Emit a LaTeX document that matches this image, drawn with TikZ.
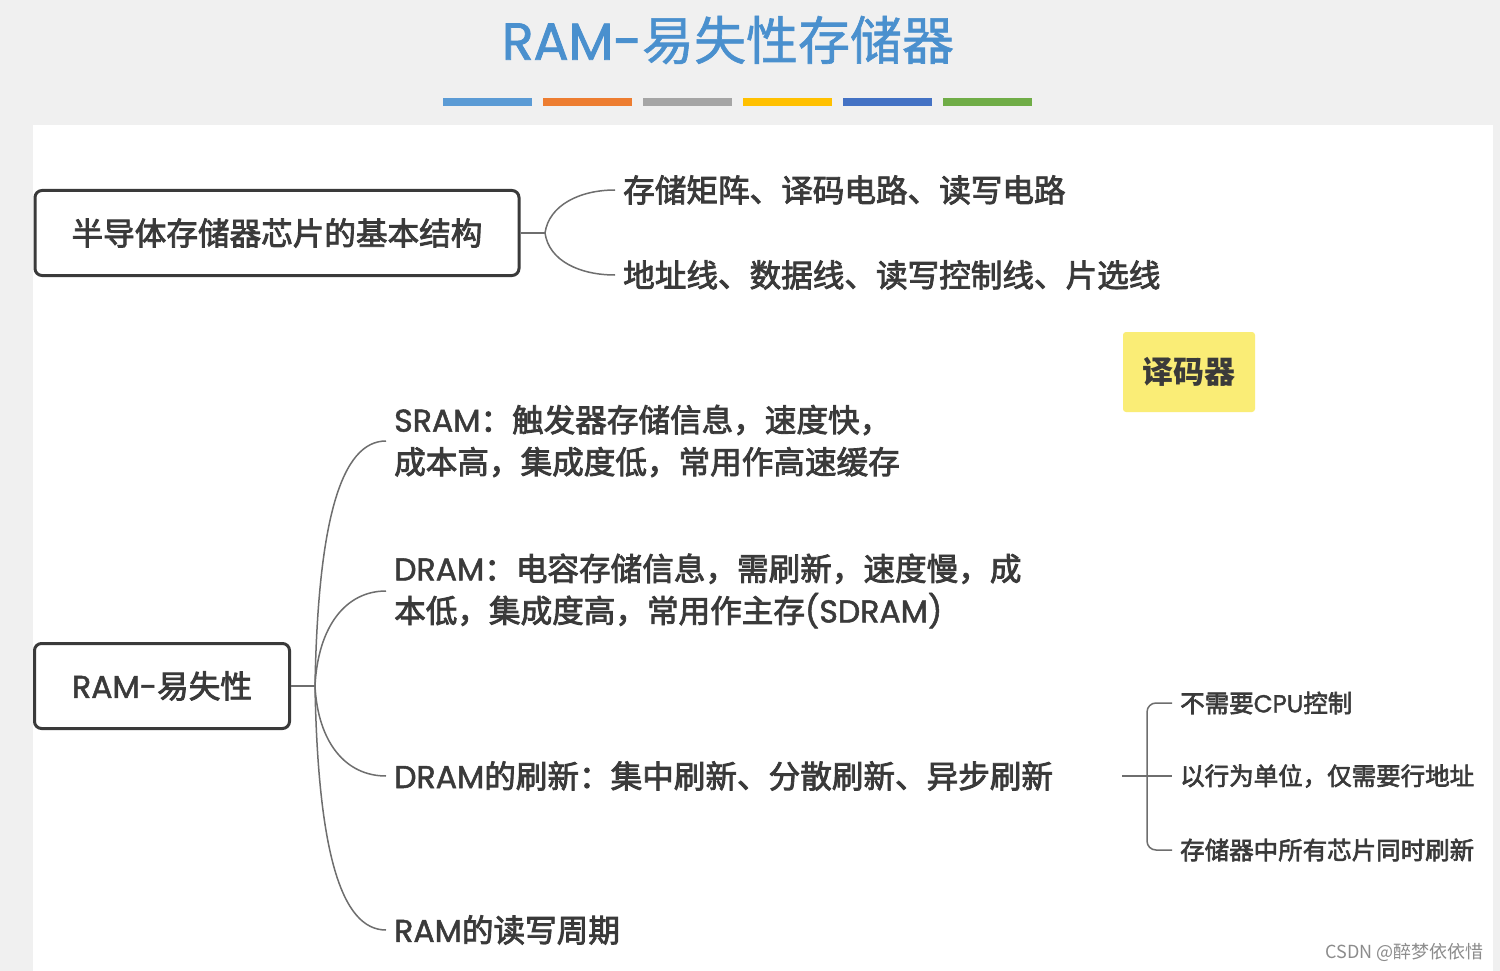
\documentclass[tikz,border=0pt]{standalone}
\usepackage{fontspec}
\setmainfont{Noto Sans CJK SC}
\newfontfamily\heavy{Noto Sans CJK SC}[FakeBold=2.6]
\newfontfamily\lat{Poppins}[FakeBold=1.6]
\newfontfamily\titlefont{Noto Sans CJK SC}[FakeBold=1.2]
\usepackage{tikz}
\usetikzlibrary{calc}

\definecolor{inkgray}{RGB}{58,58,58}
\definecolor{linegray}{RGB}{110,110,110}
\definecolor{titleblue}{RGB}{74,144,206}
\definecolor{memo}{RGB}{250,237,118}
\definecolor{paper}{RGB}{240,240,240}
\definecolor{barA}{RGB}{91,155,213}
\definecolor{barB}{RGB}{237,125,49}
\definecolor{barC}{RGB}{165,165,165}
\definecolor{barD}{RGB}{255,192,0}
\definecolor{barE}{RGB}{68,114,196}
\definecolor{barF}{RGB}{112,173,71}

\begin{document}
\begin{tikzpicture}[
  x=1pt, y=-1pt,
  topic/.style={draw=inkgray,line width=3pt,rounded corners=7pt,text=inkgray,minimum height=85pt,font=\heavy\fontsize{31.6}{38}\selectfont},
  leaf/.style={anchor=west,inner xsep=8pt,inner ysep=2pt,text=inkgray,align=left,font=\heavy\fontsize{31.6}{42}\selectfont},
  small/.style={anchor=west,inner xsep=8pt,text=inkgray,font=\heavy\fontsize{24.5}{30}\selectfont},
  twig/.style={draw=linegray,line width=1.5pt}
]
  \useasboundingbox (0,0) rectangle (1500,971);
  \fill[paper] (0,0) rectangle (1500,971);
  \fill[white] (33,125) rectangle (1493,971);

  \node[text=titleblue,font=\titlefont\fontsize{52}{60}\selectfont] (title) at (728,40) {{\lat RAM-}易失性存储器};
  \foreach \c [count=\i from 0] in {barA,barB,barC,barD,barE,barF}
    \fill[\c] (443+100*\i,98) rectangle ++(89,8);

  \node[topic,minimum width=484pt] (chipBox) at (277,233) {半导体存储器芯片的基本结构};
  \coordinate (fork1) at (545,233);
  \node[leaf] (parts) at (615,190) {存储矩阵、译码电路、读写电路};
  \node[leaf] (lines) at (615,275) {地址线、数据线、读写控制线、片选线};

  \draw[twig] (chipBox.east) -- (fork1);
  \draw[twig] (fork1) .. controls +(4,-28) and +(-35,0) .. (parts.west);
  \draw[twig] (fork1) .. controls +(4,28) and +(-35,0) .. (lines.west);

  \node[fill=memo,rounded corners=3pt,minimum width=132pt,minimum height=80pt,text=inkgray,font=\bfseries\fontsize{31}{38}\selectfont] (decoder) at (1189,372) {译码器};

  \node[topic,minimum width=255pt] (ramBox) at (162,686) {{\lat RAM-}易失性};
  \coordinate (fork2) at (315,686);
  \node[leaf] (sram) at (386,441) {{\lat SRAM}：触发器存储信息，速度快，\\成本高，集成度低，常用作高速缓存};
  \node[leaf] (dram) at (386,591) {{\lat DRAM}：电容存储信息，需刷新，速度慢，成\\本低，集成度高，常用作主存{\lat (SDRAM)}};
  \node[leaf] (refresh) at (386,776) {{\lat DRAM}的刷新：集中刷新、分散刷新、异步刷新};
  \node[leaf] (cycle) at (386,930) {{\lat RAM}的读写周期};

  \draw[twig] (ramBox.east) -- (fork2);
  \draw[twig] (fork2) .. controls +(3,-165) and +(-45,0) .. (sram.west);
  \draw[twig] (fork2) .. controls +(3,-60) and +(-40,0) .. (dram.west);
  \draw[twig] (fork2) .. controls +(3,57) and +(-40,0) .. (refresh.west);
  \draw[twig] (fork2) .. controls +(3,165) and +(-45,0) .. (cycle.west);

  \coordinate (stem) at (1122,776);
  \coordinate (split) at (1147,776);
  \node[small] (noCpu) at (1172,703) {不需要{\lat CPU}控制};
  \node[small] (byRow) at (1172,776) {以行为单位，仅需要行地址};
  \node[small] (allChips) at (1172,850) {存储器中所有芯片同时刷新};

  \draw[twig] (stem) -- (byRow.west);
  \draw[twig,rounded corners=9pt] (noCpu.west) -| (split) |- (allChips.west);

  \node[anchor=east,text=black!45,font=\fontsize{18}{20}\selectfont] (mark) at (1487,952) {CSDN @醉梦依依惜};
\end{tikzpicture}
\end{document}
